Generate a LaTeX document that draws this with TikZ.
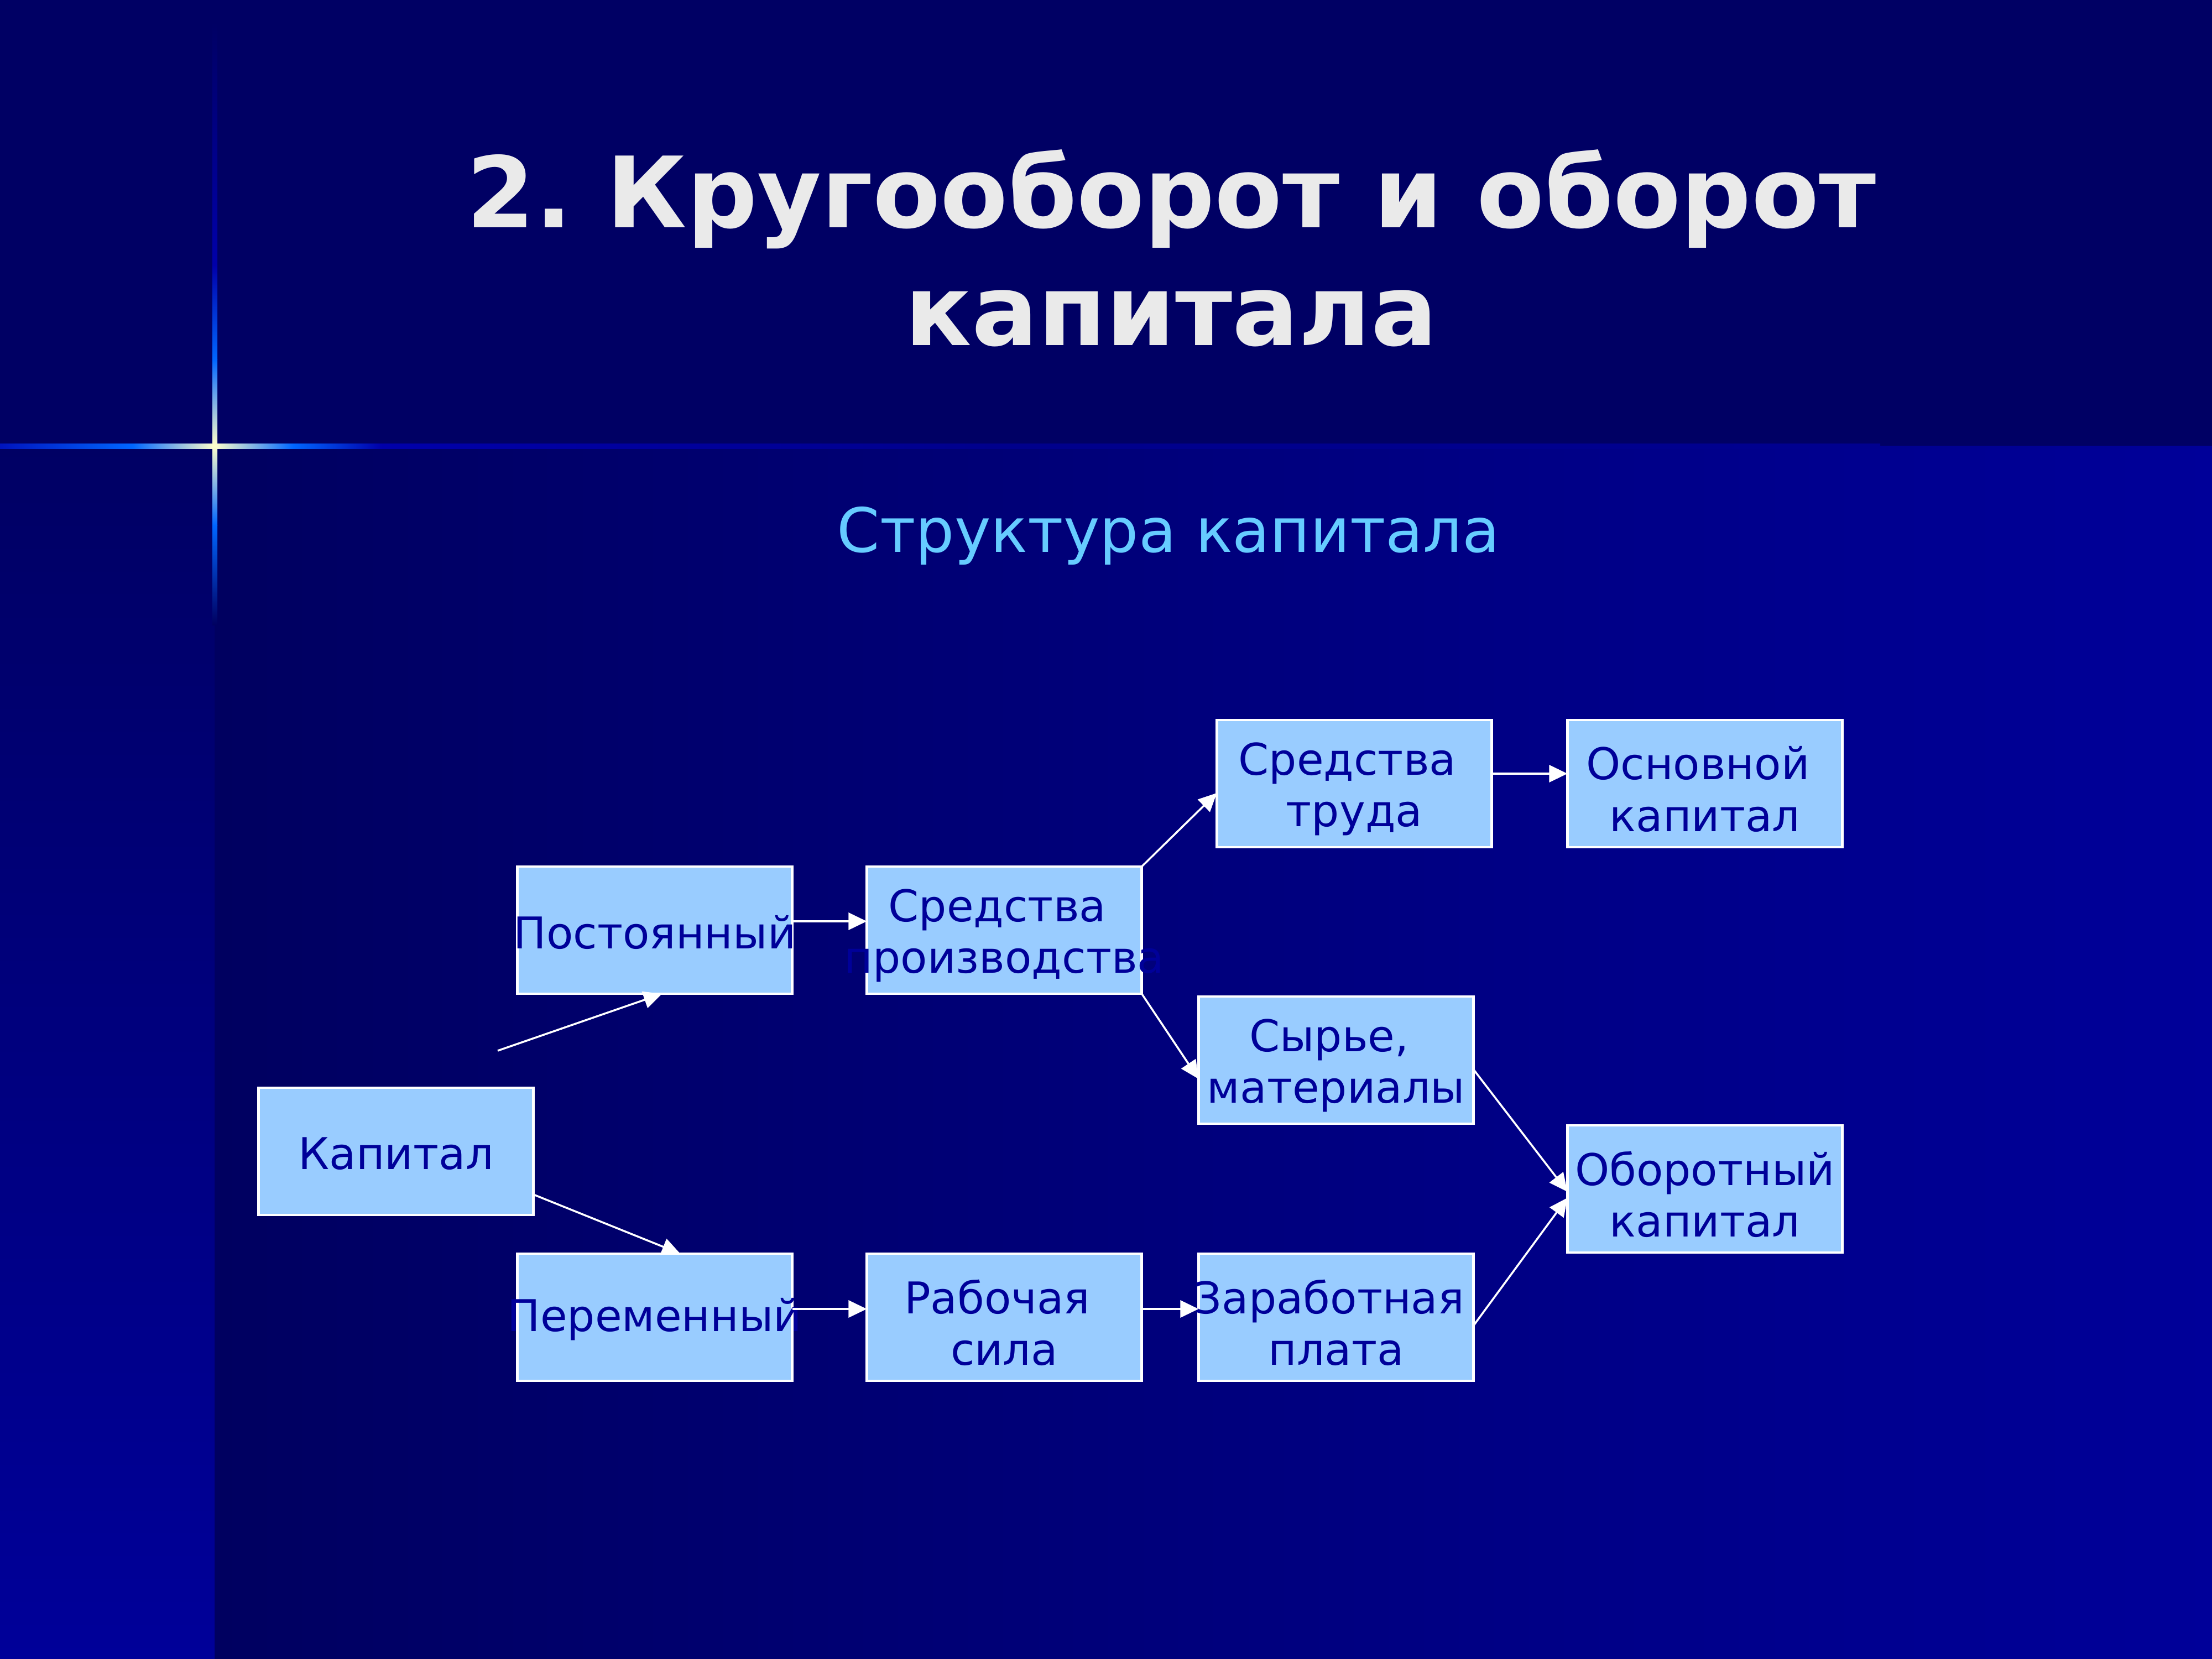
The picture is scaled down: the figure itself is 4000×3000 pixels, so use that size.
\documentclass[tikz,border=0pt]{standalone}
\usepackage{fontspec}
\setmainfont{DejaVu Sans}
\usetikzlibrary{arrows.meta}
\frenchspacing
\definecolor{topbg}{RGB}{0,0,100}
\definecolor{mainL}{RGB}{0,0,96}
\definecolor{mainR}{RGB}{0,0,153}
\definecolor{stripT}{RGB}{0,0,100}
\definecolor{stripB}{RGB}{0,0,153}
\definecolor{boxfill}{RGB}{153,204,255}
\definecolor{txtcol}{RGB}{0,0,153}
\definecolor{titlecol}{RGB}{234,234,234}
\definecolor{subcol}{RGB}{102,204,255}
\definecolor{flareY}{RGB}{255,255,204}
\definecolor{flareB}{RGB}{0,102,255}
\definecolor{flareD}{RGB}{0,0,170}
\definecolor{flareE}{RGB}{0,20,190}
\definecolor{bandC}{RGB}{0,0,140}
\definecolor{bandEnd}{RGB}{0,0,143}
\begin{document}
\begin{tikzpicture}[x=0.01cm,y=-0.01cm,
  box/.style={draw=white, line width=1.3pt, fill=boxfill, minimum width=4.97cm, minimum height=2.3cm, inner sep=0pt, outer sep=0pt},
  txt/.style={text=txtcol, font=\fontsize{22.5}{26.5}\selectfont, align=center, inner sep=0pt, yshift=-0.04cm},
  txttwo/.style={txt, yshift=-0.06cm},
  arr/.style={draw=white, line width=1pt, -{Triangle[length=0.33cm,width=0.31cm]}, fill=white},
  titletxt/.style={text=titlecol, font=\fontsize{50.6}{60}\selectfont\bfseries, inner sep=0pt},
  subtxt/.style={text=subcol, font=\fontsize{31.5}{36}\selectfont, inner sep=0pt}]
\useasboundingbox (0,0) rectangle (4000,3000);
% background
\fill[topbg] (0,0) rectangle (4000,806);
\shade[left color=mainL, right color=mainR] (388,806) rectangle (4000,3000);
\shade[top color=stripT, bottom color=stripB] (0,806) rectangle (388,3000);
% flare: horizontal
\shade[left color=bandC, right color=bandEnd] (1800,802) rectangle (3400,811);
\shade[left color=flareD, right color=bandC] (690,802) rectangle (1800,811);
\shade[left color=flareB, right color=flareD] (530,802) rectangle (690,811);
\shade[left color=flareY, right color=flareB] (388,802) rectangle (530,811);
\shade[left color=flareB, right color=flareY] (240,802) rectangle (388,811);
\shade[left color=flareE, right color=flareB] (0,802) rectangle (240,811);
% flare: vertical
\shade[top color=topbg, bottom color=flareD] (384,40) rectangle (393,480);
\shade[top color=flareD, bottom color=flareB] (384,480) rectangle (393,650);
\shade[top color=flareB, bottom color=flareY] (384,650) rectangle (393,806);
\shade[top color=flareY, bottom color=flareB] (384,806) rectangle (393,950);
\shade[top color=flareB, bottom color=mainL] (384,950) rectangle (393,1130);
% titles
\node[titletxt, anchor=base] (t1) at (2118,411) {2. Кругооборот и оборот};
\node[titletxt, anchor=base] (t2) at (2118,624) {капитала};
\node[subtxt, anchor=base] (sub) at (2113,998) {Структура капитала};
% boxes
\node[box, label={[txt]center:{Капитал}}] (kap) at (716,2082) {};
\node[box, label={[txt]center:{Постоянный}}] (post) at (1184,1682) {};
\node[box, label={[txt]center:{Переменный}}] (per) at (1184,2382) {};
\node[box, label={[txttwo]center:{Средства\kern.32em\\производства}}] (sp) at (1816,1682) {};
\node[box, label={[txttwo]center:{Рабочая\kern.32em\\сила}}] (rab) at (1816,2382) {};
\node[box, label={[txttwo]center:{Средства\kern.32em\\труда}}] (st) at (2449,1417) {};
\node[box, label={[txttwo]center:{Сырье,\kern.32em\\материалы}}] (syr) at (2416,1917) {};
\node[box, label={[txttwo]center:{Заработная\kern.32em\\плата}}] (zar) at (2416,2382) {};
\node[box, label={[txttwo]center:{Основной\kern.32em\\капитал}}] (osn) at (3083,1417) {};
\node[box, label={[txttwo]center:{Оборотный\\капитал}}] (obo) at (3083,2150) {};
% connectors
\coordinate (s0) at (900,1900);
\draw[arr] (s0) -- ([xshift=0.13cm]post.south);
\draw[arr] ([yshift=-0.78cm]kap.east) -- ([xshift=0.46cm]per.north);
\draw[arr] ([yshift=0.16cm]post.east) -- ([yshift=0.16cm]sp.west);
\draw[arr] ([yshift=0.15cm]per.east) -- ([yshift=0.15cm]rab.west);
\draw[arr] (sp.north east) -- ([yshift=-0.17cm]st.west);
\draw[arr] (sp.south east) -- ([yshift=-0.34cm]syr.west);
\draw[arr] ([yshift=0.18cm]st.east) -- ([yshift=0.18cm]osn.west);
\draw[arr] ([yshift=0.15cm]rab.east) -- ([yshift=0.15cm]zar.west);
\draw[arr] ([yshift=-0.17cm]syr.east) -- ([yshift=-0.05cm]obo.west);
\draw[arr] ([yshift=-0.15cm]zar.east) -- ([yshift=-0.16cm]obo.west);
\end{tikzpicture}
\end{document}
